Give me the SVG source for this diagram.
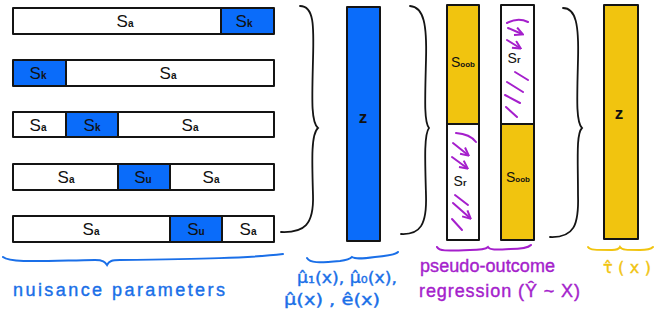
<svg xmlns="http://www.w3.org/2000/svg" width="664" height="319" viewBox="0 0 664 319">
<defs>
<style>
.box{stroke:#141414;stroke-width:2;stroke-linejoin:round}
.w{fill:#ffffff}
.b{fill:#0a6cfa}
.o{fill:#f1c40f}
.lbl{font-family:"Liberation Sans","DejaVu Sans",sans-serif;fill:#111;text-anchor:middle}
.big{font-size:17px}
.sm{font-size:10px;font-weight:bold}
.brace{fill:none;stroke:#141414;stroke-width:1.8;stroke-linecap:round}
.hb{fill:none;stroke-width:2;stroke-linecap:round}
.hand{font-family:"Liberation Sans","DejaVu Sans",sans-serif;font-size:18px;stroke-width:0.4}
.dv{font-family:"DejaVu Sans",sans-serif;font-size:16px}
.pm{fill:none;stroke:#a51fcc;stroke-width:2;stroke-linecap:round;stroke-linejoin:round}
</style>
<marker id="ah" viewBox="0 0 10 10" refX="8" refY="5" markerWidth="5" markerHeight="5" orient="auto">
<path d="M1,1 L9,5 L1,9" fill="none" stroke="#a51fcc" stroke-width="2"/>
</marker>
</defs>
<rect width="664" height="319" fill="#ffffff"/>

<g id="row1">
<rect class="box w" x="13" y="8" width="208" height="26"/>
<rect class="box b" x="221" y="8" width="53" height="26"/>
<text class="lbl" x="125" y="27"><tspan class="big">S</tspan><tspan class="sm">a</tspan></text>
<text class="lbl" x="244" y="27"><tspan class="big">S</tspan><tspan class="sm">k</tspan></text>
</g>
<g id="row2">
<rect class="box b" x="13" y="60" width="53" height="26"/>
<rect class="box w" x="66" y="60" width="208" height="26"/>
<text class="lbl" x="38" y="79"><tspan class="big">S</tspan><tspan class="sm">k</tspan></text>
<text class="lbl" x="168" y="79"><tspan class="big">S</tspan><tspan class="sm">a</tspan></text>
</g>
<g id="row3">
<rect class="box w" x="13" y="112" width="53" height="25"/>
<rect class="box b" x="66" y="112" width="52" height="25"/>
<rect class="box w" x="118" y="112" width="156" height="25"/>
<text class="lbl" x="38" y="131"><tspan class="big">S</tspan><tspan class="sm">a</tspan></text>
<text class="lbl" x="92" y="131"><tspan class="big">S</tspan><tspan class="sm">k</tspan></text>
<text class="lbl" x="190" y="131"><tspan class="big">S</tspan><tspan class="sm">a</tspan></text>
</g>
<g id="row4">
<rect class="box w" x="13" y="164" width="105" height="26"/>
<rect class="box b" x="118" y="164" width="52" height="26"/>
<rect class="box w" x="170" y="164" width="104" height="26"/>
<text class="lbl" x="66" y="183"><tspan class="big">S</tspan><tspan class="sm">a</tspan></text>
<text class="lbl" x="143" y="183"><tspan class="big">S</tspan><tspan class="sm">u</tspan></text>
<text class="lbl" x="211" y="183"><tspan class="big">S</tspan><tspan class="sm">a</tspan></text>
</g>
<g id="row5">
<rect class="box w" x="13" y="216" width="157" height="26"/>
<rect class="box b" x="170" y="216" width="52" height="26"/>
<rect class="box w" x="222" y="216" width="52" height="26"/>
<text class="lbl" x="91" y="235"><tspan class="big">S</tspan><tspan class="sm">a</tspan></text>
<text class="lbl" x="196" y="235"><tspan class="big">S</tspan><tspan class="sm">u</tspan></text>
<text class="lbl" x="248" y="235"><tspan class="big">S</tspan><tspan class="sm">a</tspan></text>
</g>

<g id="z-blue">
<rect class="box b" x="347" y="7" width="33" height="234"/>
<text class="lbl" x="363" y="123" style="font-size:17px;font-weight:bold">z</text>
</g>

<g id="pseudo-col1">
<rect class="box o" x="447" y="5" width="32" height="119"/>
<rect class="box w" x="447" y="124" width="32" height="116"/>
<text class="lbl" x="463" y="67"><tspan style="font-size:14px">S</tspan><tspan style="font-size:8px;font-weight:bold">oob</tspan></text>
<text class="lbl" x="460" y="186"><tspan style="font-size:14px">S</tspan><tspan style="font-size:9px;font-weight:bold">r</tspan></text>
<g>
<path class="pm" d="M456,133 Q470,134 476,142"/>
<path class="pm" d="M453,143 L468,155" marker-end="url(#ah)"/>
<path class="pm" d="M452,157 L467,168" marker-end="url(#ah)"/>
<path class="pm" d="M455,195 L468,205"/>
<path class="pm" d="M453,203 L470,218" marker-end="url(#ah)"/>
<path class="pm" d="M452,219 L462,230"/>
</g>
</g>
<g id="pseudo-col2">
<rect class="box w" x="501" y="5" width="33" height="119"/>
<rect class="box o" x="501" y="124" width="33" height="116"/>
<text class="lbl" x="514" y="63"><tspan style="font-size:14px">S</tspan><tspan style="font-size:9px;font-weight:bold">r</tspan></text>
<text class="lbl" x="518" y="182"><tspan style="font-size:14px">S</tspan><tspan style="font-size:8px;font-weight:bold">oob</tspan></text>
<g>
<path class="pm" d="M507,23 Q518,17 528,22"/>
<path class="pm" d="M508,28 L522,34" marker-end="url(#ah)"/>
<path class="pm" d="M507,40 L520,48" marker-end="url(#ah)"/>
<path class="pm" d="M515,72 L528,80"/>
<path class="pm" d="M507,82 L523,92"/>
<path class="pm" d="M505,95 L520,103"/>
<path class="pm" d="M506,107 L517,117"/>
</g>
</g>

<g id="tau">
<rect class="box o" x="604" y="5" width="34" height="234"/>
<text class="lbl" x="619" y="119" style="font-size:17px;font-weight:bold">z</text>
</g>

<g id="braces">
<path class="brace" d="M300,6 C314,6 314,25 313,60 C312,100 311,122 318,128 C311,134 312,160 313,195 C314,225 304,233 281,232"/>
<path class="brace" d="M410,6 C424,7 427,25 426,60 C425,100 424,122 429,128 C424,134 425,160 426,195 C427,225 420,235 401,234"/>
<path class="brace" d="M563,8 C576,8 579,25 578,60 C577,100 576,122 582,128 C576,134 578,160 578,195 C579,225 574,238 550,237"/>
<path class="hb" stroke="#1a6fe8" d="M3,257 C10,263 40,261 95,260 C103,260 105,262 107,265 C109,261 112,260 120,260 C200,259 250,258 283,254"/>
<path class="hb" stroke="#1a6fe8" d="M307,258 C310,263 318,263 340,261 C347,260 350,259 352,257 C355,259 360,259 375,257 C388,256 395,255 398,252"/>
<path class="hb" stroke="#a51fcc" d="M437,247 C439,251 445,251 470,250 C482,250 486,249 488,247 C490,250 495,250 510,249 C522,249 528,248 531,245"/>
<path class="hb" stroke="#f1c40f" d="M588,247 C590,250 595,250 612,250 C617,250 619,249 620,247 C622,250 626,250 640,250 C648,250 651,249 653,247"/>
</g>

<g id="labels">
<text class="hand" x="13" y="296" fill="#1a6fe8" stroke="#1a6fe8" textLength="212" lengthAdjust="spacing">nuisance parameters</text>
<text class="hand dv" x="297" y="283" fill="#1a6fe8" stroke="#1a6fe8" textLength="100" lengthAdjust="spacingAndGlyphs">μ̂₁(x), μ̂₀(x),</text>
<text class="hand dv" x="284" y="305" fill="#1a6fe8" stroke="#1a6fe8" textLength="96" lengthAdjust="spacingAndGlyphs">μ̂(x) , ê(x)</text>
<text class="hand" x="420" y="272" fill="#a51fcc" stroke="#a51fcc" textLength="135" lengthAdjust="spacing">pseudo-outcome</text>
<text class="hand" x="419" y="297" fill="#a51fcc" stroke="#a51fcc" textLength="161" lengthAdjust="spacing">regression (Ŷ ~ X)</text>
<text class="hand dv" x="603" y="273" fill="#f1c40f" stroke="#f1c40f" textLength="48" lengthAdjust="spacing">τ̂(x)</text>
</g>
</svg>
